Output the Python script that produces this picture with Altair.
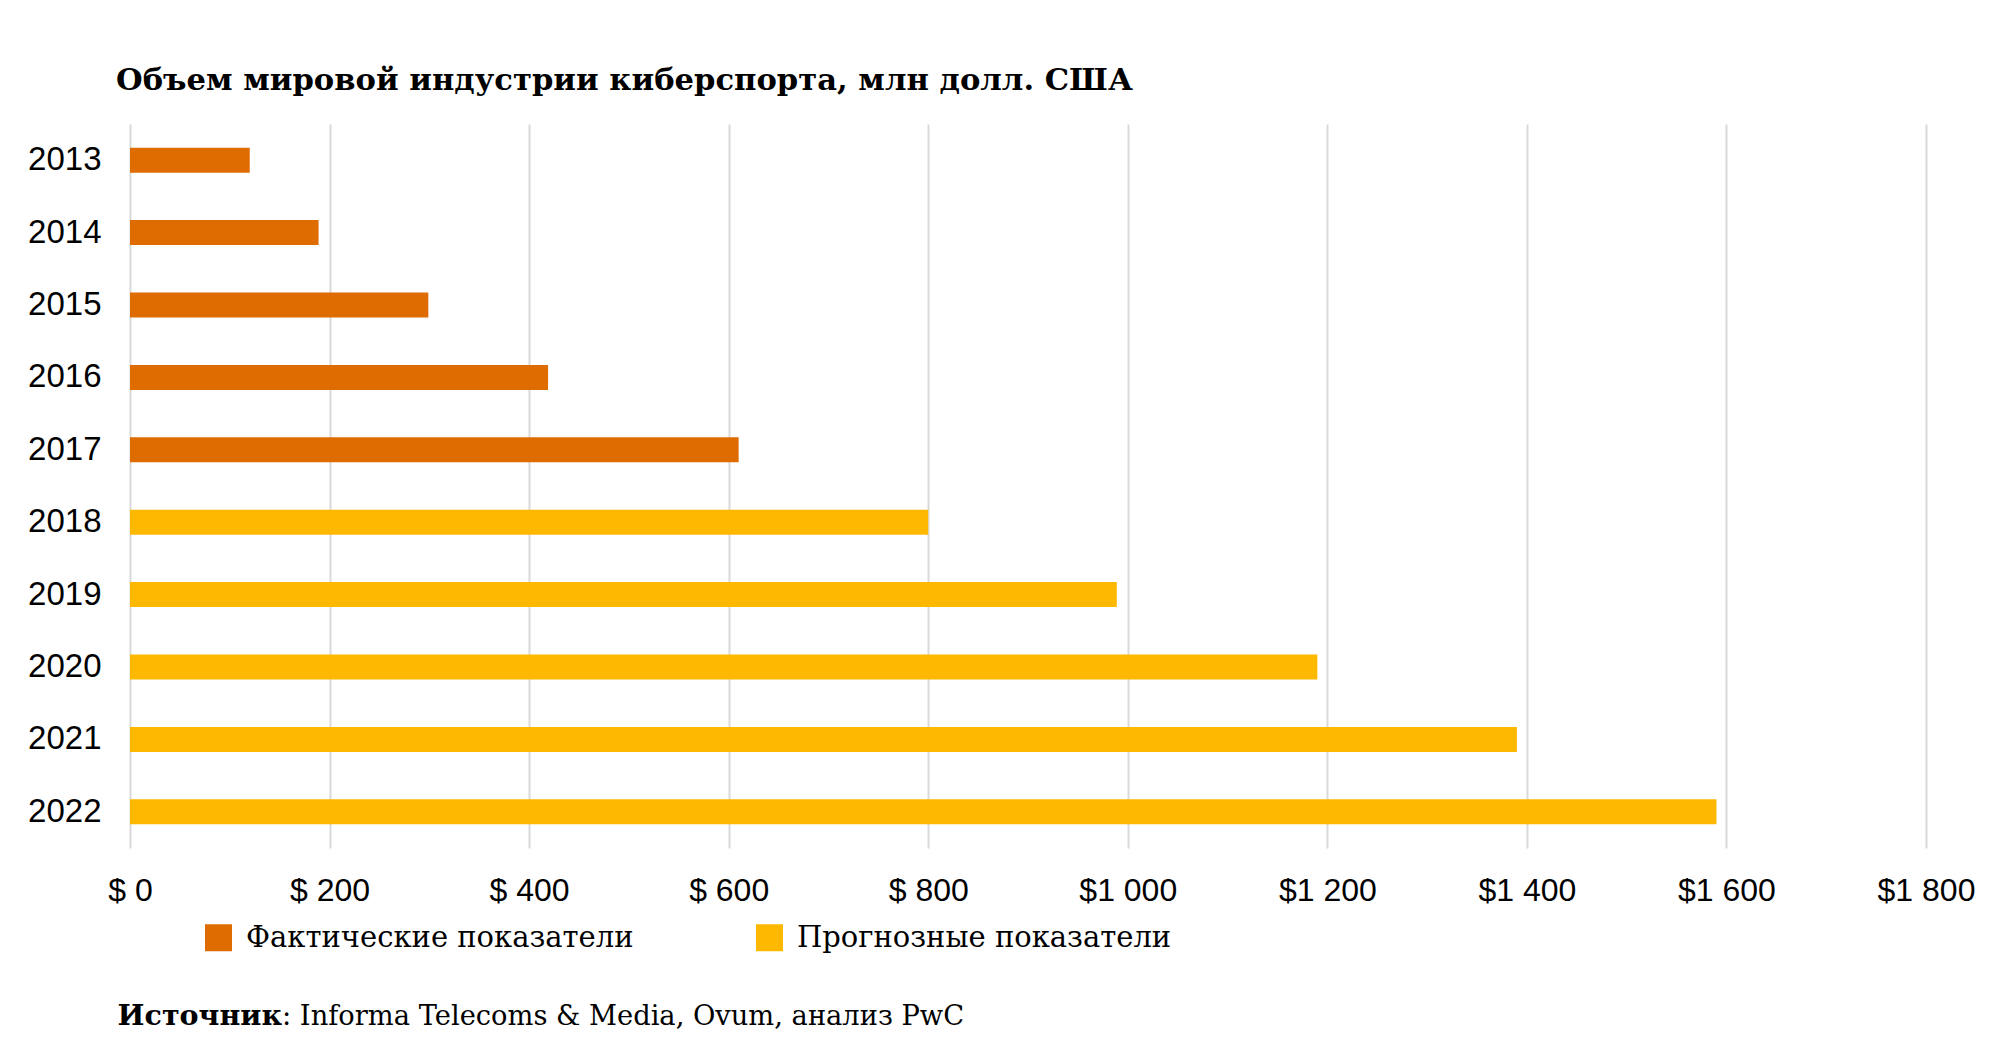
import altair as alt
import pandas as pd

years = ["2013", "2014", "2015", "2016", "2017", "2018", "2019", "2020", "2021", "2022"]
values = [120, 189, 299, 419, 610, 800, 989, 1190, 1390, 1590]
kinds = ["Фактические показатели"] * 5 + ["Прогнозные показатели"] * 5
kind_order = ["Фактические показатели", "Прогнозные показатели"]
kind_colors = ["#DF6C00", "#FFB800"]
x_ticks = [0, 200, 400, 600, 800, 1000, 1200, 1400, 1600, 1800]

title_text = "Объем мировой индустрии киберспорта, млн долл. США"
source_bold = "Источник"
source_rest = ": Informa Telecoms & Media, Ovum, анализ PwC"

df = pd.DataFrame({"year": years, "value": values, "kind": kinds})

W, H = 1796, 724

bars = alt.Chart(df).mark_bar().encode(
    y=alt.Y(
        "year:O",
        sort=years,
        scale=alt.Scale(paddingInner=0.655, paddingOuter=0.3275),
        axis=alt.Axis(
            title=None, ticks=False, domain=False, tickSize=0,
            labelFont="Liberation Sans", labelFontSize=33, labelColor="#000000",
            labelPadding=29,
        ),
    ),
    x=alt.X(
        "value:Q",
        scale=alt.Scale(domain=[0, 1800], nice=False),
        axis=alt.Axis(
            title=None, values=x_ticks, ticks=False, domain=False, tickSize=0,
            grid=True, gridColor="#d9d9d9", gridWidth=2,
            labelFont="Liberation Sans", labelFontSize=32, labelColor="#000000",
            labelPadding=27, labelFlush=False, labelOverlap=False,
            labelExpr="datum.value < 1000 ? '$ ' + datum.value : '$' + floor(datum.value/1000) + ' ' + format(datum.value % 1000, '03d')",
        ),
    ),
    color=alt.Color(
        "kind:N",
        scale=alt.Scale(domain=kind_order, range=kind_colors),
        legend=alt.Legend(
            title=None, orient="none", legendX=74, legendY=799,
            direction="horizontal", symbolType="square", symbolSize=729,
            symbolStrokeWidth=0, symbolOpacity=1, labelFont="DejaVu Serif",
            labelFontSize=29, labelColor="#000000", labelOffset=13,
            columnPadding=121, padding=0, labelLimit=600,
        ),
    ),
)

src_df = pd.DataFrame({"a": [source_bold], "b": [source_rest]})
src_bold = alt.Chart(src_df).mark_text(
    font="DejaVu Serif", fontSize=28.5, fontWeight="bold", align="right",
    baseline="alphabetic", color="#000000",
).encode(x=alt.value(152), y=alt.value(901), text="a:N")
src_reg = alt.Chart(src_df).mark_text(
    font="DejaVu Serif", fontSize=27.3, align="left",
    baseline="alphabetic", color="#000000",
).encode(x=alt.value(152), y=alt.value(901), text="b:N")

chart = alt.layer(bars, src_bold, src_reg).properties(
    width=W, height=H,
    title=alt.TitleParams(
        text=title_text, anchor="start", frame="group", font="DejaVu Serif", fontSize=30.6,
        fontWeight="bold", color="#000000", dx=-14, offset=3, baseline="alphabetic",
    ),
    autosize=alt.AutoSizeParams(type="none"),
    padding={"left": 122, "top": 116, "right": 60, "bottom": 200},
).configure_view(stroke="transparent")

chart.save("out.html", embed_options={"renderer": "svg", "actions": False})
